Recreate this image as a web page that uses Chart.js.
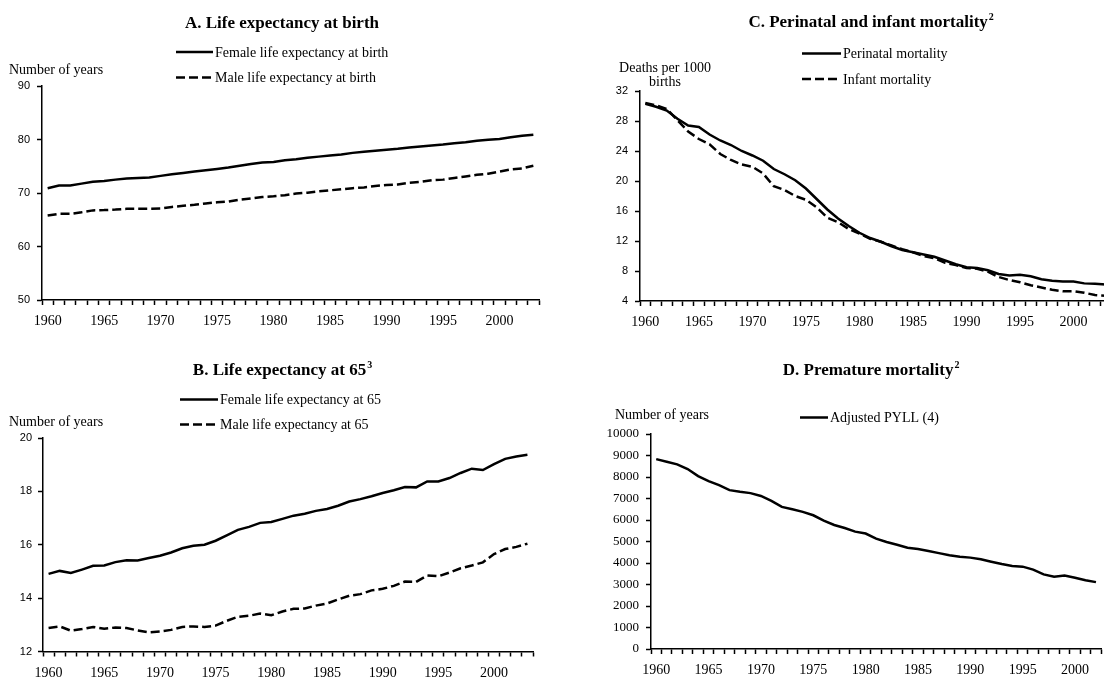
<!DOCTYPE html>
<html>
<head>
<meta charset="utf-8">
<script src="https://cdn.jsdelivr.net/npm/chart.js@4.4.1/dist/chart.umd.min.js"></script>
<style>
  html, body { margin: 0; padding: 0; background: #fff; overflow: hidden; width: 1104px; height: 677px; }
  canvas { position: absolute; }
</style>
</head>
<body>
<canvas id="chartA" width="552" height="338" style="left:0;top:0"></canvas>
<canvas id="chartB" width="552" height="339" style="left:0;top:338px"></canvas>
<canvas id="chartC" width="562" height="338" style="left:552px;top:0"></canvas>
<canvas id="chartD" width="552" height="339" style="left:552px;top:338px"></canvas>
<script>
const years = [1960, 1961, 1962, 1963, 1964, 1965, 1966, 1967, 1968, 1969,
  1970, 1971, 1972, 1973, 1974, 1975, 1976, 1977, 1978, 1979,
  1980, 1981, 1982, 1983, 1984, 1985, 1986, 1987, 1988, 1989,
  1990, 1991, 1992, 1993, 1994, 1995, 1996, 1997, 1998, 1999,
  2000, 2001, 2002, 2003];
const yearsPyll = years.slice(0, 43);
const xTickYears = [1960, 1965, 1970, 1975, 1980, 1985, 1990, 1995, 2000];

// A. life expectancy at birth
const femaleBirth = [70.9, 71.4, 71.4, 71.75, 72.1, 72.25, 72.5, 72.7, 72.8, 72.9,
  73.2, 73.5, 73.75, 74.0, 74.25, 74.5, 74.75, 75.1, 75.4, 75.7,
  75.8, 76.1, 76.3, 76.6, 76.8, 77.0, 77.2, 77.5, 77.7, 77.9,
  78.1, 78.25, 78.5, 78.7, 78.9, 79.05, 79.3, 79.5, 79.75, 79.95,
  80.1, 80.4, 80.7, 80.9];
const maleBirth = [65.8, 66.1, 66.1, 66.4, 66.75, 66.8, 66.9, 67.05, 67.05, 67.05,
  67.1, 67.4, 67.6, 67.8, 68.05, 68.25, 68.4, 68.75, 69.0, 69.25,
  69.4, 69.6, 69.9, 70.05, 70.3, 70.5, 70.7, 70.9, 71.05, 71.3,
  71.5, 71.6, 71.9, 72.1, 72.4, 72.5, 72.8, 73.1, 73.4, 73.6,
  74.0, 74.4, 74.6, 75.1];
const yTicksA = [50, 60, 70, 80, 90];

// B. life expectancy at 65
const female65 = [14.91, 15.02, 14.94, 15.07, 15.21, 15.22, 15.35, 15.42, 15.41, 15.5,
  15.59, 15.71, 15.87, 15.96, 16.0, 16.15, 16.35, 16.56, 16.67, 16.82,
  16.85, 16.97, 17.09, 17.16, 17.27, 17.34, 17.46, 17.62, 17.71, 17.82,
  17.94, 18.04, 18.16, 18.15, 18.37, 18.37, 18.5, 18.69, 18.85, 18.8,
  19.02, 19.22, 19.31, 19.37];
const male65 = [12.88, 12.94, 12.78, 12.84, 12.92, 12.85, 12.9, 12.88, 12.79, 12.72,
  12.75, 12.81, 12.92, 12.94, 12.92, 12.97, 13.15, 13.3, 13.34, 13.42,
  13.36, 13.5, 13.6, 13.61, 13.72, 13.8, 13.95, 14.09, 14.15, 14.29,
  14.35, 14.46, 14.62, 14.61, 14.85, 14.82, 14.96, 15.12, 15.22, 15.34,
  15.65, 15.84, 15.92, 16.04];
const yTicksB = [12, 14, 16, 18, 20];

// C. perinatal and infant mortality
const perinatal = [30.3, 29.9, 29.4, 28.3, 27.4, 27.2, 26.2, 25.4, 24.8, 24.0,
  23.4, 22.7, 21.6, 20.9, 20.1, 19.0, 17.6, 16.2, 15.0, 14.0,
  13.1, 12.4, 11.9, 11.3, 10.8, 10.5, 10.2, 9.9, 9.4, 8.9,
  8.5, 8.4, 8.1, 7.6, 7.4, 7.5, 7.3, 6.9, 6.7, 6.6,
  6.6, 6.35, 6.3, 6.2];
const infant = [30.4, 30.1, 29.6, 28.1, 26.6, 25.6, 24.9, 23.6, 22.8, 22.2,
  21.9, 21.0, 19.3, 18.8, 18.0, 17.5, 16.5, 15.1, 14.5, 13.6,
  13.0, 12.3, 11.9, 11.4, 10.9, 10.5, 10.0, 9.7, 9.1, 8.8,
  8.4, 8.3, 7.9, 7.2, 6.8, 6.5, 6.1, 5.8, 5.5, 5.3,
  5.3, 5.1, 4.8, 4.7];
const yTicksC = [4, 8, 12, 16, 20, 24, 28, 32];

// D. premature mortality
const pyll = [8830, 8710, 8590, 8370, 8040, 7810, 7620, 7390, 7310, 7250,
  7120, 6890, 6610, 6500, 6380, 6220, 5970, 5770, 5630, 5460,
  5370, 5130, 4980, 4850, 4710, 4650, 4560, 4460, 4360, 4290,
  4250, 4170, 4060, 3950, 3860, 3830, 3690, 3470, 3360, 3420,
  3310, 3200, 3110];
const yTicksD = [0, 1000, 2000, 3000, 4000, 5000, 6000, 7000, 8000, 9000, 10000];

const SERIF = '"Liberation Serif", "Times New Roman", serif';
const SANS = '"Liberation Sans", Arial, sans-serif';
const DASH = [9, 4];

// titles, axis captions and legend drawn on the canvas
function panelText(cfg) {
  return {
    id: 'panelText',
    afterDraw(chart) {
      const ctx = chart.ctx;
      ctx.save();
      ctx.fillStyle = '#000';
      ctx.textBaseline = 'alphabetic';

      ctx.font = 'bold 17px ' + SERIF;
      const tw = ctx.measureText(cfg.title).width;
      ctx.font = 'bold 10px ' + SERIF;
      const sw = cfg.sup ? ctx.measureText(cfg.sup).width : 0;
      const x0 = cfg.titleX - (tw + sw) / 2;
      ctx.font = 'bold 17px ' + SERIF;
      ctx.textAlign = 'left';
      ctx.fillText(cfg.title, x0, cfg.titleY);
      if (cfg.sup) {
        ctx.font = 'bold 10px ' + SERIF;
        ctx.fillText(cfg.sup, x0 + tw + 1, cfg.titleY - 7);
      }

      ctx.font = '14px ' + SERIF;
      cfg.axisTitle.forEach(t => {
        ctx.textAlign = t.align;
        ctx.fillText(t.text, t.x, t.y);
      });

      chart.data.datasets.forEach((ds, i) => {
        const y = cfg.legendY[i];
        ctx.beginPath();
        ctx.setLineDash(ds.borderDash || []);
        ctx.lineWidth = 2.5;
        ctx.strokeStyle = '#000';
        ctx.moveTo(cfg.legendX[0], y - 4.5);
        ctx.lineTo(cfg.legendX[1], y - 4.5);
        ctx.stroke();
        ctx.setLineDash([]);
        ctx.textAlign = 'left';
        ctx.fillText(ds.label, cfg.legendX[1] + 2, y);
      });
      ctx.restore();
    }
  };
}

function makeChart(id, c) {
  new Chart(document.getElementById(id), {
    type: 'line',
    data: {
      labels: c.labels,
      datasets: c.series.map(s => ({
        label: s.label,
        data: s.data,
        borderColor: '#000',
        borderWidth: 2.5,
        borderDash: s.dash,
        pointRadius: 0,
        tension: 0,
        fill: false
      }))
    },
    options: {
      responsive: false,
      animation: false,
      layout: { padding: c.pad },
      plugins: { legend: { display: false }, tooltip: { enabled: false } },
      scales: {
        x: {
          type: 'category',
          offset: true,
          grid: { offset: true, drawOnChartArea: false, drawTicks: true, tickLength: 5, tickColor: '#000', tickWidth: 1.5 },
          border: { display: true, color: '#000', width: 1.5 },
          ticks: {
            autoSkip: false, maxRotation: 0, minRotation: 0, padding: 8, color: '#000',
            font: { family: SERIF, size: 14 },
            callback(v) {
              const yr = this.getLabelForValue(v);
              return xTickYears.includes(yr) ? String(yr) : '';
            }
          },
          afterFit(s) { s.height = c.xh; }
        },
        y: {
          min: c.yTicks[0],
          max: c.yTicks[c.yTicks.length - 1],
          grid: { drawOnChartArea: false, drawTicks: true, tickLength: 5, tickColor: '#000', tickWidth: 1.5 },
          border: { display: true, color: '#000', width: 1.5 },
          ticks: { padding: c.yPad, color: '#000', font: c.yFont, callback: v => String(v) },
          afterBuildTicks(s) { s.ticks = c.yTicks.map(v => ({ value: v })); },
          afterFit(s) { s.width = c.left; }
        }
      }
    },
    plugins: [panelText(c.text)]
  });
}

makeChart('chartA', {
  labels: years,
  series: [
    { label: 'Female life expectancy at birth', data: femaleBirth },
    { label: 'Male life expectancy at birth', data: maleBirth, dash: DASH }
  ],
  yTicks: yTicksA, yFont: { family: SANS, size: 11 }, yPad: 7,
  left: 42, xh: 30, pad: { left: 0, top: 86, right: 13, bottom: 8 },
  text: {
    title: 'A. Life expectancy at birth', titleX: 282, titleY: 27.5,
    axisTitle: [{ text: 'Number of years', x: 9, y: 74, align: 'left' }],
    legendX: [176, 213], legendY: [56.5, 82]
  }
});

makeChart('chartB', {
  labels: years,
  series: [
    { label: 'Female life expectancy at 65', data: female65 },
    { label: 'Male life expectancy at 65', data: male65, dash: DASH }
  ],
  yTicks: yTicksB, yFont: { family: SANS, size: 11 }, yPad: 6,
  left: 43, xh: 25.5, pad: { left: 0, top: 100, right: 19, bottom: 0 },
  text: {
    title: 'B. Life expectancy at 65', sup: '3', titleX: 282, titleY: 36.5,
    axisTitle: [{ text: 'Number of years', x: 9, y: 87.5, align: 'left' }],
    legendX: [180, 218], legendY: [66, 91]
  }
});

makeChart('chartC', {
  labels: years,
  series: [
    { label: 'Perinatal mortality', data: perinatal },
    { label: 'Infant mortality', data: infant, dash: DASH }
  ],
  yTicks: yTicksC, yFont: { family: SANS, size: 11 }, yPad: 7,
  left: 88, xh: 30, pad: { left: 0, top: 91, right: 3, bottom: 7 },
  text: {
    title: 'C. Perinatal and infant mortality', sup: '2', titleX: 318.6, titleY: 26.7,
    axisTitle: [
      { text: 'Deaths per 1000', x: 113, y: 71.7, align: 'center' },
      { text: 'births', x: 113, y: 86, align: 'center' }
    ],
    legendX: [250, 289], legendY: [58, 83.5]
  }
});

makeChart('chartD', {
  labels: yearsPyll,
  series: [
    { label: 'Adjusted PYLL (4)', data: pyll }
  ],
  yTicks: yTicksD, yFont: { family: SERIF, size: 13 }, yPad: 7,
  left: 99, xh: 28, pad: { left: 0, top: 96, right: 2, bottom: 0 },
  text: {
    title: 'D. Premature mortality', sup: '2', titleX: 318.6, titleY: 36.7,
    axisTitle: [{ text: 'Number of years', x: 110, y: 81, align: 'center' }],
    legendX: [248, 276], legendY: [84]
  }
});
</script>
</body>
</html>
